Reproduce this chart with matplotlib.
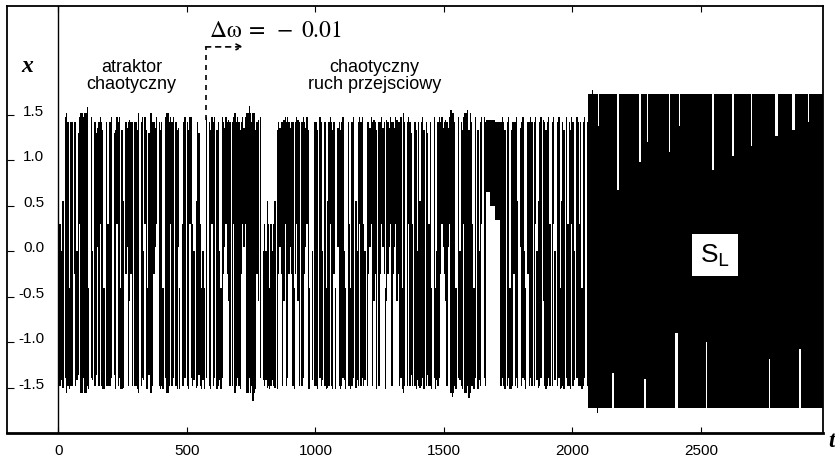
import matplotlib
matplotlib.use('Agg')
import matplotlib.pyplot as plt
import numpy as np

# chaotic transient: one letter per 5 time units, t = 0 ... 2060
# B/H/b/E/F = swings across both wells, U/V/W/X = upper well, L/M/N/K = lower well,
# A/C/D = upper well with shrinking swing, '.' = blank stripe
wells = ("LLNK.FHBMBB.UBNbVHHF" "HHBM.FN.BbWBVBEM.BLB" "BF.bEVBFMEK.UWBXUB.B"
         "BEH.BFNVEMbHHBUWV.BE" "BM.FHHBVBF.BEWM.LBF." "BEVFLN.KBbLMNM.F.BEV"
         "BF.EBNMFUWVUXB.BVHBF" "BEUVWVHHFHBHHEUX.F.N" "LNKLMLNLK.EUWUBXVBFU"
         "WUBMUVXB.BFUWVEM.N.B" "BE.FBN.BMKBVBEUM.WBE" "BFNM.BLMBF.KNBVBFLN."
         "BUWVBXUE.BUVWUMXUWVB" "UWVXUBFMHB.BVBbL.BEN" "BKBFE.BbLBM.FMNBFUVW"
         "UXBWVHHHBM.FNBEVHHBE" "HBLMF.ENBV.FBAAACCCC" "DDDDBFBE.BFMEBUBFK.W"
         "BFNM.UBFB.BVNKBF.XBE" "BFL.BVN.BFMKBE.FLBEV" "BN.FBLBMBF.B")
bin_w = 5
well_lo = {'B': -1.48, 'H': -1.56, 'b': -1.36, 'E': -1.52, 'F': -1.40,
           'U': -0.25, 'V': 0.30, 'W': 0.05, 'X': -0.55,
           'L': -1.48, 'M': -1.52, 'N': -1.42, 'K': -1.50,
           'A': 0.65, 'C': 0.50, 'D': 0.35}
well_hi = {'B': 1.42, 'H': 1.52, 'b': 1.30, 'E': 1.34, 'F': 1.48,
           'U': 1.42, 'V': 1.48, 'W': 1.36, 'X': 1.45,
           'L': 0.30, 'M': -0.40, 'N': 0.00, 'K': 0.55,
           'A': 1.45, 'C': 1.45, 'D': 1.42}

# single tall peaks / deep troughs (t, x)
peaks_hi = [(114, 1.59), (744, 1.60), (1530, 1.55), (1594, 1.56), (2080, 1.77)]
peaks_lo = [(121, -1.58), (757, -1.65), (1535, -1.60), (1600, -1.62), (2100, -1.78)]

# large periodic orbit S_L after t = 2060
sl_start, t_end = 2060, 2975
sl_amp = 1.73
sl_top_gaps = [(2104, 1.38), (2178, 0.68), (2262, 0.98), (2294, 1.20), (2379, 1.09),
               (2418, 1.38), (2547, 0.90), (2625, 1.05), (2697, 1.16), (2795, 1.27),
               (2860, 1.34), (2918, 1.42)]
sl_bot_gaps = [(2159, -1.34), (2282, -1.41), (2405, -0.90), (2522, -1.00),
               (2769, -1.19), (2885, -1.08)]

xticks = [0, 500, 1000, 1500, 2000, 2500]
yticks = [-1.5, -1.0, -0.5, 0.0, 0.5, 1.0, 1.5]

# envelope of the fast oscillation in each 5-unit bin
t = np.arange(0, t_end, bin_w) + bin_w / 2
lo = np.full(len(t), np.nan)
hi = np.full(len(t), np.nan)
for i, ti in enumerate(t):
    if ti < sl_start:
        c = wells[min(int(ti // bin_w), len(wells) - 1)]
        if c != '.':
            lo[i], hi[i] = well_lo[c], well_hi[c]
    else:
        lo[i], hi[i] = -sl_amp, sl_amp
for tp, v in sl_top_gaps:
    hi[np.abs(t - tp) <= 3] = v
for tp, v in sl_bot_gaps:
    lo[np.abs(t - tp) <= 3] = v
for tp, v in peaks_hi:
    hi[np.argmin(np.abs(t - tp))] = v
for tp, v in peaks_lo:
    lo[np.argmin(np.abs(t - tp))] = v
ok = ~np.isnan(lo)

fig = plt.figure(figsize=(8.35, 4.6), dpi=100)
ax = fig.add_axes([7 / 835, 1 - 434 / 460, 816 / 835, 427 / 460])
ax.bar(t[ok], hi[ok] - lo[ok], bottom=lo[ok], width=bin_w, color='k',
       linewidth=0, antialiased=False)
ax.axvline(0, color='k', lw=1.0)

ax.set_xlim(-200, 2975)
ax.set_ylim(-2.0, 2.7)
ax.set_xticks(xticks)
ax.set_xticklabels([str(v) for v in xticks], fontfamily='Liberation Sans', fontsize=11)
ax.set_yticks(yticks)
ax.set_yticklabels(['%.1f' % v for v in yticks], fontfamily='Liberation Sans', fontsize=11)
ax.tick_params(axis='x', direction='in', length=4, top=True, pad=7)
ax.tick_params(axis='y', direction='in', length=5, pad=-27)
for lbl in ax.get_yticklabels():
    lbl.set_verticalalignment('baseline')
for s in ax.spines.values():
    s.set_linewidth(1.3)
ax.spines['bottom'].set_linewidth(2.0)

# dashed marker where the parameter is changed
ax.plot([573, 573], [1.45, 2.25], color='k', lw=1.2, ls=(0, (3, 3)))
ax.annotate('', xy=(720, 2.25), xytext=(573, 2.25),
            arrowprops=dict(arrowstyle='->', lw=1.2, ls=(0, (3, 3)), color='k',
                            shrinkA=0, shrinkB=0))
ax.text(845, 2.45, r'$\mathrm{\Delta\omega}\;=\;-\;0.01$', fontsize=17,
        math_fontfamily='stix', ha='center', va='center')
ax.text(284, 1.94, 'atraktor\nchaotyczny', fontfamily='Liberation Sans', fontsize=13,
        ha='center', va='center', linespacing=1.05)
ax.text(1230, 1.94, 'chaotyczny\nruch przejsciowy', fontfamily='Liberation Sans',
        fontsize=13, ha='center', va='center', linespacing=1.05)
ax.text(2555, -0.04, r'S$_{\mathsf{L}}$', fontfamily='Liberation Sans', fontsize=19,
        math_fontfamily='dejavusans', ha='center', va='center',
        bbox=dict(boxstyle='square,pad=0.3', facecolor='white', edgecolor='none'))

fig.text(27 / 835, 1 - 67 / 460, 'x', fontfamily='Liberation Serif', fontsize=17,
         fontweight='bold', fontstyle='italic', ha='center', va='center')
fig.text(832 / 835, 1 - 442 / 460, 't', fontfamily='Liberation Serif', fontsize=17,
         fontweight='bold', fontstyle='italic', ha='center', va='center')

fig.savefig('out.png', dpi=100)
